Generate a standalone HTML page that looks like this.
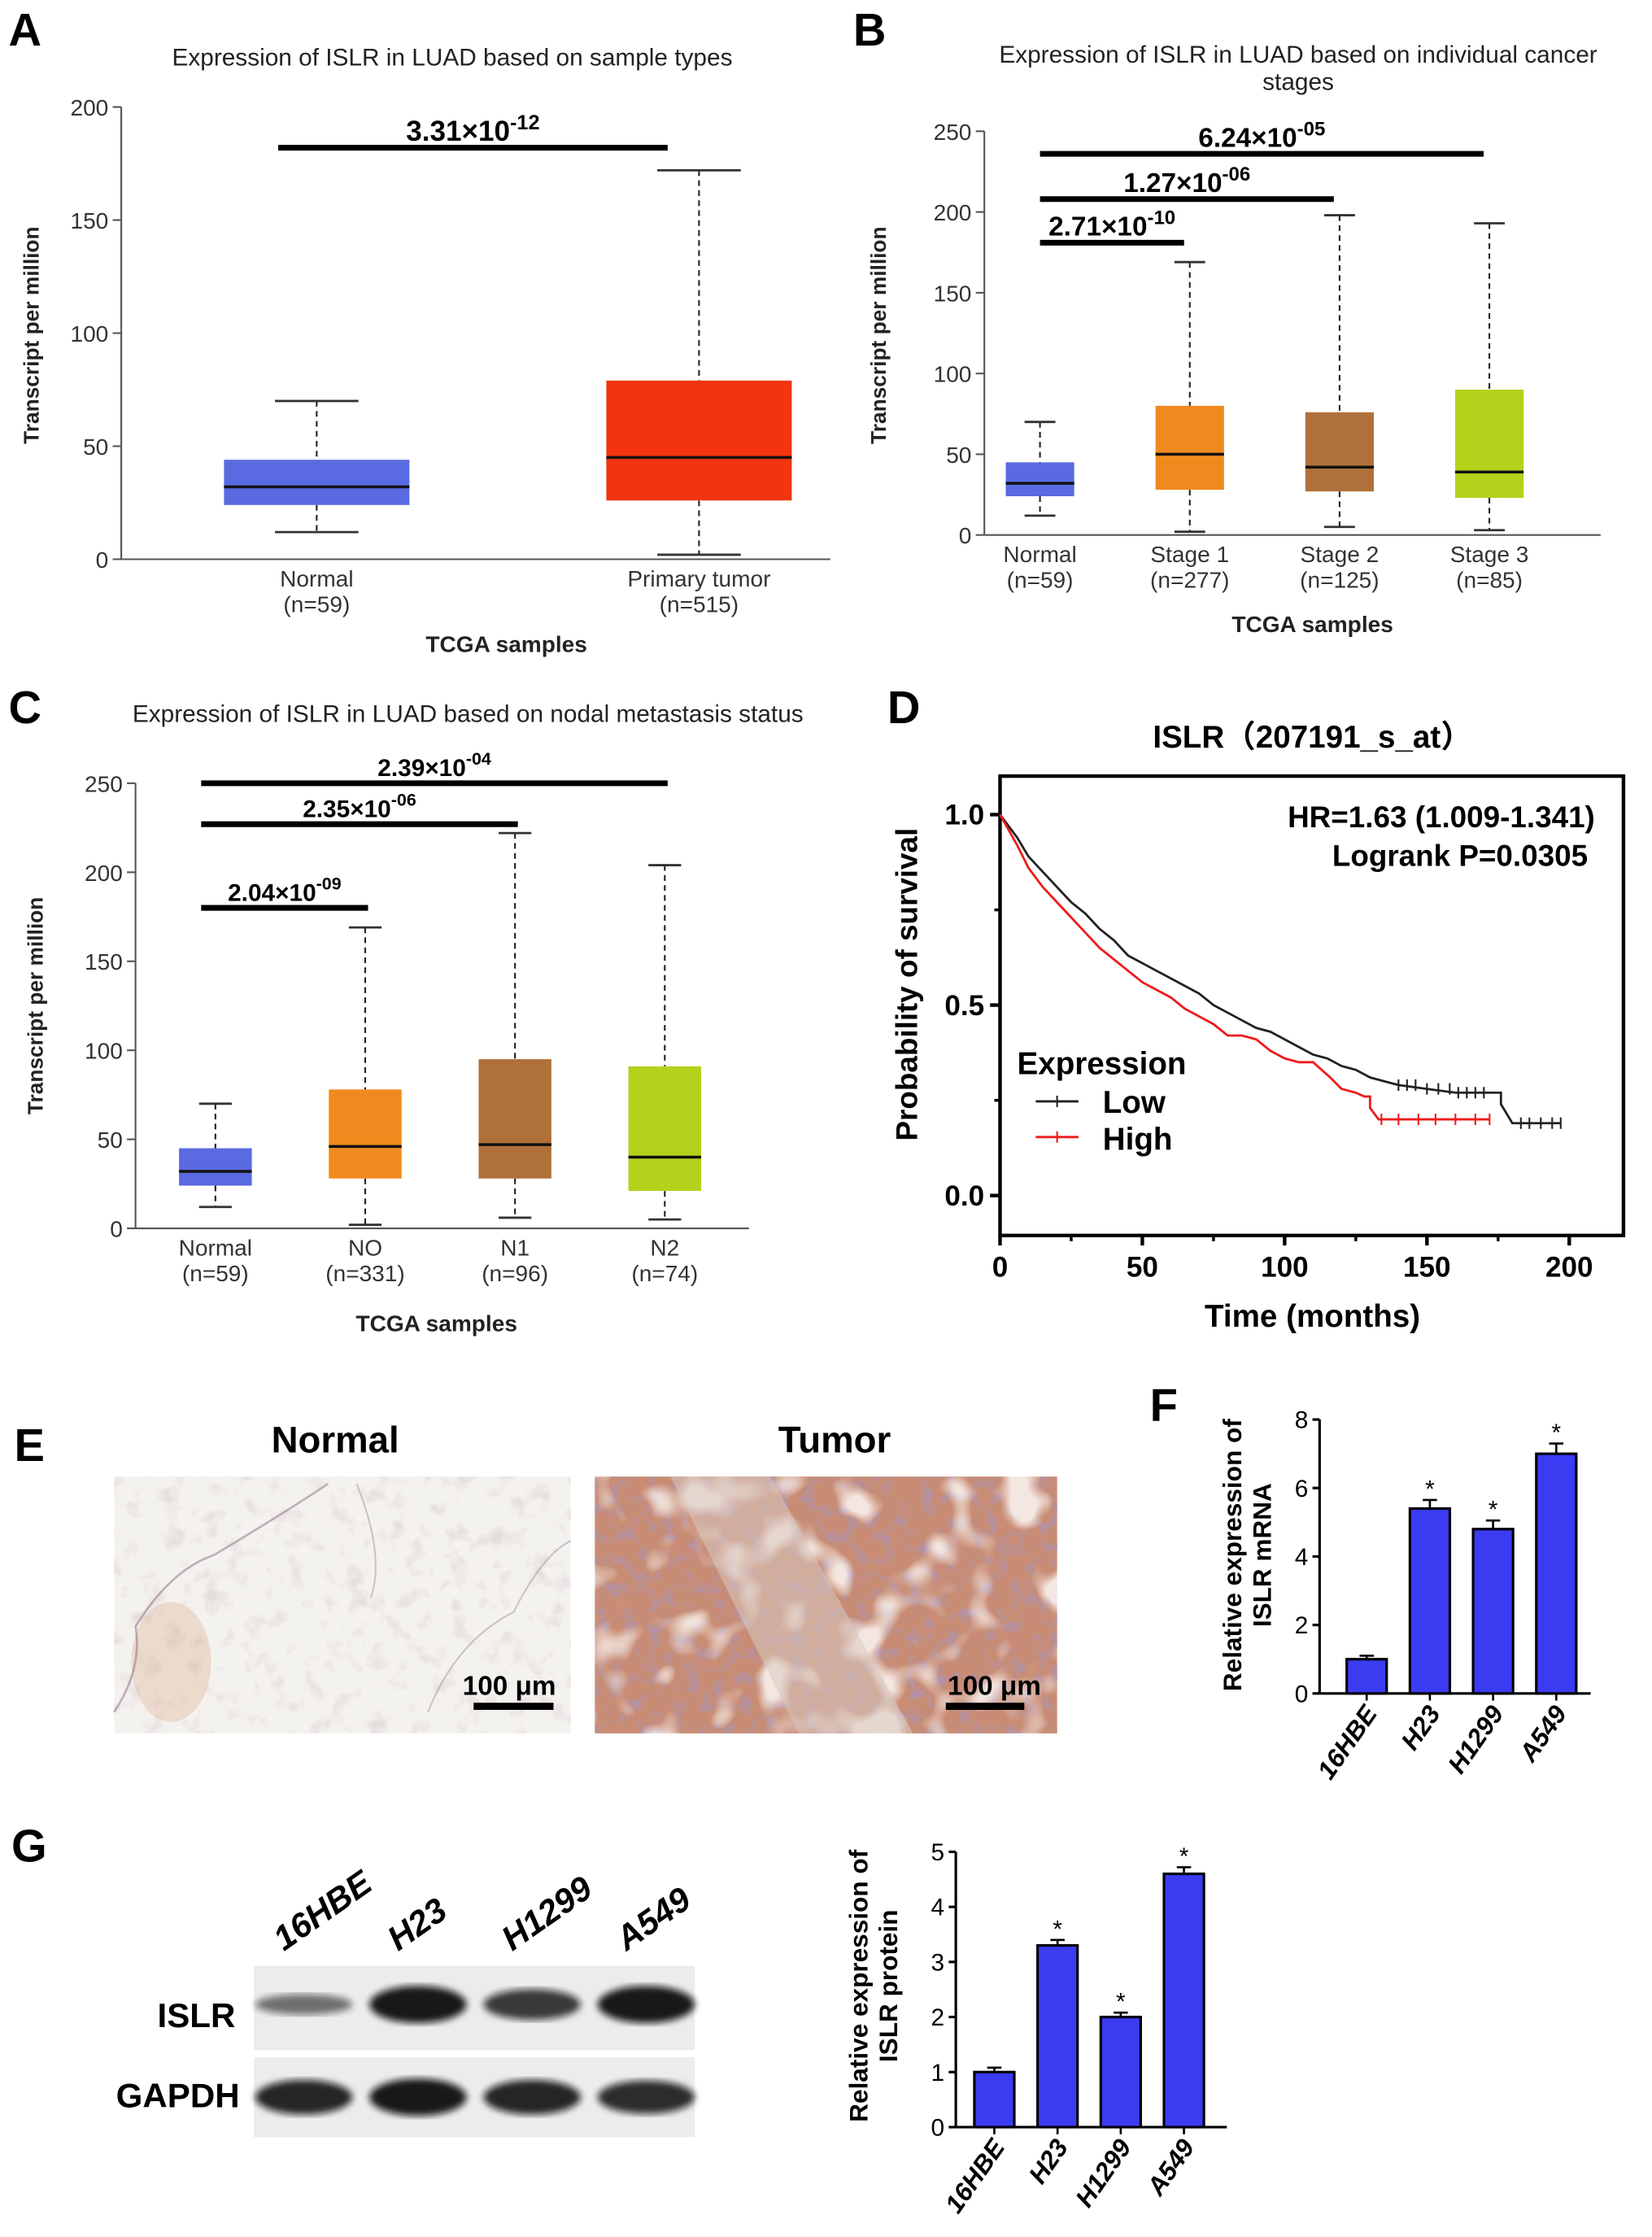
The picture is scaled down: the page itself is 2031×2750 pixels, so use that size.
<!DOCTYPE html>
<html><head><meta charset="utf-8"><style>
html,body{margin:0;padding:0;background:#fff}
svg{display:block}
text{font-family:"Liberation Sans","Noto Sans CJK SC",sans-serif}
</style></head><body>
<svg id="fig" width="2031" height="2750" viewBox="0 0 1158 1568" preserveAspectRatio="none" xmlns="http://www.w3.org/2000/svg">
<defs>
<filter id="texN" x="0" y="0" width="1" height="1"><feTurbulence type="fractalNoise" baseFrequency="0.07" numOctaves="3" seed="3"/><feColorMatrix type="matrix" values="0 0 0 0 0.55  0 0 0 0 0.4  0 0 0 0 0.45  0 0 0 -3 1.45"/></filter>
<filter id="texT" x="0" y="0" width="1" height="1"><feTurbulence type="fractalNoise" baseFrequency="0.11" numOctaves="3" seed="7"/><feColorMatrix type="matrix" values="0 0 0 0 0.4  0 0 0 0 0.3  0 0 0 0 0.5  0 0 0 -2.6 1.35"/></filter>
<filter id="texT2" x="0" y="0" width="1" height="1"><feTurbulence type="fractalNoise" baseFrequency="0.03" numOctaves="2" seed="11"/><feColorMatrix type="matrix" values="0 0 0 0 0.97  0 0 0 0 0.93  0 0 0 0 0.9  0 0 0 -5 2.4"/></filter>
<filter id="blur"><feGaussianBlur stdDeviation="2.5"/></filter>
</defs>
<g id="root"></g>
</svg>
<script>
// ---- Panel A data
const aCats=["Normal","Primary tumor"];
const aN=["(n=59)","(n=515)"];
const aMin=[12,2], aQ1=[24,26], aMed=[32,45], aQ3=[44,79], aMax=[70,172];
const aSigText=["3.31×10"], aSigExp=["-12"], aSigLevel=[182], aSigFrom=[0], aSigTo=[1];
const aTicks=[0,50,100,150,200];
// ---- Panel B data
const bCats=["Normal","Stage 1","Stage 2","Stage 3"];
const bN=["(n=59)","(n=277)","(n=125)","(n=85)"];
const bMin=[12,2,5,3], bQ1=[24,28,27,23], bMed=[32,50,42,39], bQ3=[45,80,76,90], bMax=[70,169,198,193];
const bSigText=["2.71×10","1.27×10","6.24×10"], bSigExp=["-10","-06","-05"], bSigLevel=[181,208,236], bSigFrom=[0,0,0], bSigTo=[1,2,3];
const bTicks=[0,50,100,150,200,250];
// ---- Panel C data
const cCats=["Normal","NO","N1","N2"];
const cN=["(n=59)","(n=331)","(n=96)","(n=74)"];
const cMin=[12,2,6,5], cQ1=[24,28,28,21], cMed=[32,46,47,40], cQ3=[45,78,95,91], cMax=[70,169,222,204];
const cSigText=["2.04×10","2.35×10","2.39×10"], cSigExp=["-09","-06","-04"], cSigLevel=[180,227,250], cSigFrom=[0,0,0], cSigTo=[1,2,3];
const cTicks=[0,50,100,150,200,250];
// ---- Panel D data
const lowT=[0,3,6,10,15,20,25,30,35,40,45,50,55,60,65,70,75,80,85,90,95,100,105,110,115,120,125,130,135,140,150,160,170,175,176,180,197];
const lowP=[1.0,0.97,0.94,0.89,0.85,0.81,0.77,0.74,0.70,0.67,0.63,0.61,0.59,0.57,0.55,0.53,0.50,0.48,0.46,0.44,0.43,0.41,0.39,0.37,0.36,0.34,0.33,0.31,0.30,0.29,0.28,0.27,0.27,0.27,0.24,0.19,0.19];
const highT=[0,3,6,10,15,20,25,30,35,40,45,50,55,60,65,70,75,80,85,90,95,100,105,110,113,116,120,125,128,130,133,172];
const highP=[1.0,0.96,0.92,0.86,0.81,0.77,0.73,0.69,0.65,0.62,0.59,0.56,0.54,0.52,0.49,0.47,0.45,0.42,0.42,0.41,0.38,0.36,0.35,0.35,0.33,0.31,0.28,0.27,0.26,0.23,0.20,0.20];
const lowCens=[140,143,146,150,154,158,161,164,167,170,183,186,190,194,197];
const highCens=[134,140,147,153,160,167,172];
const dXTicks=[0,50,100,150,200];
const dYTicks=[0,0.5,1.0];
// ---- Panel F data
const fCats=["16HBE","H23","H1299","A549"];
const fVals=[1.0,5.4,4.8,7.0];
const fErr=[0.1,0.25,0.25,0.3];
const fStar=[false,true,true,true];
const fTicks=[0,2,4,6,8];
// ---- Panel G data
const gCats=["16HBE","H23","H1299","A549"];
const gVals=[1.0,3.3,2.0,4.6];
const gErr=[0.08,0.1,0.08,0.12];
const gStar=[false,true,true,true];
const gTicks=[0,1,2,3,4,5];
const blotIslr=[0.35,1.0,0.75,1.0];
const blotGapdh=[0.9,1.0,0.9,0.85];

const NS="http://www.w3.org/2000/svg";
const root=document.getElementById('root');
function el(tag,attrs,parent,txt){const e=document.createElementNS(NS,tag);for(const k in attrs)e.setAttribute(k,attrs[k]);if(txt!==undefined)e.textContent=txt;(parent||root).appendChild(e);return e;}
function grp(name,parent){const g=el('g',{},parent||root);return g;}
function label(txt,x,y,size,name,anchor,weight,parent){const t=el('text',{x:x,y:y,'font-size':size,'font-weight':weight||'bold','text-anchor':anchor||'start',fill:'#000'},parent||root,txt);return t;}

function boxPanel(o){
  const g=grp(o.name);
  const ys=v=>o.y0-v/o.vmax*(o.y0-o.yTop);
  const cx=i=>o.xL+i*o.step;
  const ya=el('line',{x1:o.ax,y1:ys(o.vmax),x2:o.ax,y2:o.y0,stroke:'#555','stroke-width':1.2},g);
  
  
  const xa=el('line',{x1:o.ax,y1:o.y0,x2:o.xEnd,y2:o.y0,stroke:'#555','stroke-width':1.2},g);
  
  
  o.ticks.forEach(t=>{
    el('line',{x1:o.ax-6,y1:ys(t),x2:o.ax,y2:ys(t),stroke:'#555','stroke-width':1.2},g);
    const tl=el('text',{x:o.ax-9,y:ys(t)+6,'text-anchor':'end','font-size':16,fill:'#333'},g,t);
    
    
  });
  o.cats.forEach((c,i)=>{
    const x=cx(i), hw=o.hw, cw=hw*0.45;
    const b=grp('box-'+c.toLowerCase().replace(/\s+/g,'-'),g);
    el('line',{x1:x,y1:ys(o.max[i]),x2:x,y2:ys(o.q3[i]),stroke:'#222','stroke-width':1.2,'stroke-dasharray':'4,3'},b);
    el('line',{x1:x,y1:ys(o.q1[i]),x2:x,y2:ys(o.min[i]),stroke:'#222','stroke-width':1.2,'stroke-dasharray':'4,3'},b);
    el('line',{x1:x-cw,y1:ys(o.max[i]),x2:x+cw,y2:ys(o.max[i]),stroke:'#333','stroke-width':1.6},b);
    el('line',{x1:x-cw,y1:ys(o.min[i]),x2:x+cw,y2:ys(o.min[i]),stroke:'#333','stroke-width':1.6},b);
    el('rect',{x:x-hw,y:ys(o.q3[i]),width:2*hw,height:ys(o.q1[i])-ys(o.q3[i]),fill:o.colors[i]},b);
    el('line',{x1:x-hw,y1:ys(o.med[i]),x2:x+hw,y2:ys(o.med[i]),stroke:'#111','stroke-width':2},b);
    const l1=el('text',{x:x,y:o.y0+19,'text-anchor':'middle','font-size':16,fill:'#333'},g,c);
    
    
    const l2=el('text',{x:x,y:o.y0+37,'text-anchor':'middle','font-size':16,fill:'#333'},g,o.n[i]);
    
    
  });
  o.sigLevel.forEach((lv,k)=>{
    const s=grp('significance-bar',g);
    const x1=cx(o.sigFrom[k])+o.sigOff[0], x2=cx(o.sigTo[k])+o.sigOff[1];
    el('line',{x1:x1,y1:ys(lv),x2:x2,y2:ys(lv),stroke:'#000','stroke-width':4},s);
    const t=el('text',{x:(x1+x2)/2,y:ys(lv)-5,'text-anchor':'middle','font-size':o.sigFs,'font-weight':'bold',fill:'#000'},s);
    el('tspan',{},t,o.sigText[k]);
    el('tspan',{dy:-8,'font-size':o.sigFs*0.72},t,o.sigExp[k]);
  });
  const at=el('text',{x:o.titleX,y:o.titleY,'text-anchor':'middle','font-size':16,'font-weight':'bold',fill:'#222'},g,'TCGA samples');
  
  
  const yt=el('text',{x:0,y:0,transform:`translate(${o.ytX},${o.ytY}) rotate(-90)`,'text-anchor':'middle','font-size':15,'font-weight':'bold',fill:'#222'},g,'Transcript per million');
  
  
}

label('A',6,32,32,'panel-label-a');label('B',598,32,32,'panel-label-b');label('C',6,507,32,'panel-label-c');
label('D',622,507,32,'panel-label-d');label('E',10,1024,32,'panel-label-e');label('F',806,996,32,'panel-label-f');label('G',8,1305,32,'panel-label-g');

let t;
t=label('Expression of ISLR in LUAD based on sample types',317,46,17,'chart-title-a','middle','normal');t.setAttribute('fill','#222');
t=label('Expression of ISLR in LUAD based on individual cancer',910,44,17,'chart-title-b','middle','normal');t.setAttribute('fill','#222');
t=label('stages',910,63,17,'chart-title-b-line2','middle','normal');t.setAttribute('fill','#222');
t=label('Expression of ISLR in LUAD based on nodal metastasis status',328,506,17,'chart-title-c','middle','normal');t.setAttribute('fill','#222');

boxPanel({name:'panel-a-boxplot',ax:85,xEnd:582,y0:392,yTop:75,vmax:200,ticks:aTicks,xL:222,step:268,hw:65,cats:aCats,n:aN,min:aMin,q1:aQ1,med:aMed,q3:aQ3,max:aMax,colors:['#5a6ae0','#f23510'],sigLevel:aSigLevel,sigFrom:aSigFrom,sigTo:aSigTo,sigText:aSigText,sigExp:aSigExp,sigOff:[-27,-22],sigFs:20,titleX:355,titleY:457,ytX:27,ytY:235});
boxPanel({name:'panel-b-boxplot',ax:690,xEnd:1122,y0:375,yTop:92,vmax:250,ticks:bTicks,xL:729,step:105,hw:24,cats:bCats,n:bN,min:bMin,q1:bQ1,med:bMed,q3:bQ3,max:bMax,colors:['#5a6ae0','#f08a1e','#b0703a','#b2d21c'],sigLevel:bSigLevel,sigFrom:bSigFrom,sigTo:bSigTo,sigText:bSigText,sigExp:bSigExp,sigOff:[0,-4],sigFs:19,titleX:920,titleY:443,ytX:621,ytY:235});
boxPanel({name:'panel-c-boxplot',ax:95,xEnd:525,y0:861,yTop:549,vmax:250,ticks:cTicks,xL:151,step:105,hw:25.5,cats:cCats,n:cN,min:cMin,q1:cQ1,med:cMed,q3:cQ3,max:cMax,colors:['#5a6ae0','#f08a1e','#b0703a','#b2d21c'],sigLevel:cSigLevel,sigFrom:cSigFrom,sigTo:cSigTo,sigText:cSigText,sigExp:cSigExp,sigOff:[-10,2],sigFs:17,titleX:306,titleY:933,ytX:30,ytY:705});

// ---- Panel D
(function(){
  const g=grp('panel-d-survival');
  const xs=v=>701+v*(1100-701)/200, ys=p=>838-p*267;
  const fr=el('rect',{x:701,y:544,width:437,height:322,fill:'none',stroke:'#000','stroke-width':2.5},g);
  
  
  label('ISLR（207191_s_at）',920,524,22,'chart-title-d','middle','bold',g);
  dXTicks.forEach(v=>{
    el('line',{x1:xs(v),y1:866,x2:xs(v),y2:873,stroke:'#000','stroke-width':2.5},g);
    label(String(v),xs(v),895,20,'x-tick-label','middle','bold',g);
  });
  dYTicks.forEach(v=>{
    el('line',{x1:694,y1:ys(v),x2:701,y2:ys(v),stroke:'#000','stroke-width':2.5},g);
    label(v.toFixed(1),690,ys(v)+7,20,'y-tick-label','end','bold',g);
  });
  [0.25,0.75].forEach(v=>el('line',{x1:697,y1:ys(v),x2:701,y2:ys(v),stroke:'#000','stroke-width':2},g));
  [25,75,125,175].forEach(v=>el('line',{x1:xs(v),y1:866,x2:xs(v),y2:870,stroke:'#000','stroke-width':2},g));
  label('Time (months)',920,930,22,'x-axis-title','middle','bold',g);
  t=el('text',{transform:'translate(643,690) rotate(-90)','text-anchor':'middle','font-size':21,'font-weight':'bold'},g,'Probability of survival');
  
  
  label('HR=1.63 (1.009-1.341)',1118,580,21,'hazard-ratio-text','end','bold',g);
  label('Logrank P=0.0305',1113,607,21,'logrank-p-text','end','bold',g);
  function curve(T,P,color,name,cens){
    let d=`M${xs(T[0])},${ys(P[0])}`;
    for(let i=1;i<T.length;i++){
      if(P[i]!==P[i-1] && T[i]-T[i-1]<=2){d+=` H${xs(T[i])} V${ys(P[i])}`;}
      else d+=` L${xs(T[i])},${ys(P[i])}`;
    }
    const p=el('path',{d:d,fill:'none',stroke:color,'stroke-width':1.6},g);
    
    
    cens.forEach(c=>{let pv=P[0];for(let i=0;i<T.length;i++){if(T[i]<=c)pv=P[i];}
      el('line',{x1:xs(c),y1:ys(pv)-4,x2:xs(c),y2:ys(pv)+4,stroke:color,'stroke-width':1.2},g);});
  }
  curve(lowT,lowP,'#222','low-expression-curve',lowCens);
  curve(highT,highP,'#ee1c1c','high-expression-curve',highCens);
  const lg=grp('legend',g);
  label('Expression',713,753,22,'legend-title','start','bold',lg);
  el('line',{x1:726,y1:772,x2:756,y2:772,stroke:'#222','stroke-width':1.6},lg);
  el('line',{x1:741,y1:768,x2:741,y2:776,stroke:'#222','stroke-width':1.2},lg);
  label('Low',773,780,22,'legend-entry-low','start','bold',lg);
  el('line',{x1:726,y1:797,x2:756,y2:797,stroke:'#ee1c1c','stroke-width':1.6},lg);
  el('line',{x1:741,y1:793,x2:741,y2:801,stroke:'#ee1c1c','stroke-width':1.2},lg);
  label('High',773,806,22,'legend-entry-high','start','bold',lg);
})();

// ---- Panel E histology
(function(){
  const g=grp('panel-e-histology');
  label('Normal',235,1018,26,'normal-image-title','middle','bold',g);
  label('Tumor',585,1018,26,'tumor-image-title','middle','bold',g);
  const n=grp('normal-tissue-image',g);
  el('rect',{x:80,y:1035,width:320,height:180,fill:'#f4f2ef'},n);
  el('rect',{x:80,y:1035,width:320,height:180,filter:'url(#texN)',opacity:0.3},n);
  el('ellipse',{cx:120,cy:1165,rx:28,ry:42,fill:'#dcae90',opacity:0.35},n);
  el('path',{d:'M80 1200 Q100 1170 95 1140 Q120 1100 150 1090 Q200 1060 230 1040',fill:'none',stroke:'#8a6a80','stroke-width':1.5,opacity:0.5},n);
  el('path',{d:'M300 1200 Q320 1150 360 1130 Q380 1090 400 1080',fill:'none',stroke:'#8a7a8a','stroke-width':1.2,opacity:0.4},n);
  el('path',{d:'M250 1040 Q270 1090 260 1120',fill:'none',stroke:'#8a7a8a','stroke-width':1.2,opacity:0.4},n);
  const tm=grp('tumor-tissue-image',g);
  el('rect',{x:417,y:1035,width:324,height:180,fill:'#c88c74'},tm);
  el('rect',{x:417,y:1035,width:324,height:180,filter:'url(#texT)',opacity:0.8},tm);
  el('rect',{x:417,y:1035,width:324,height:180,filter:'url(#texT2)',opacity:0.85},tm);
  el('path',{d:'M470 1035 L540 1035 L640 1215 L560 1215 Z',fill:'#d8c8c0',opacity:0.55},tm);
  [[332,388,357],[663,718,697]].forEach((s,i)=>{
    el('line',{x1:s[0],y1:1196,x2:s[1],y2:1196,stroke:'#000','stroke-width':5},g);
    label('100 μm',s[2],1188,19,'scale-bar-label','middle','bold',g);
  });
})();

function barPanel(o){
  const g=grp(o.name);
  const ys=v=>o.y0-v/o.vmax*(o.y0-o.yTop);
  const cx=i=>o.xL+i*o.step;
  const ya=el('line',{x1:o.ax,y1:ys(o.vmax),x2:o.ax,y2:o.y0,stroke:'#000','stroke-width':1.8},g);
  
  
  const xa=el('line',{x1:o.ax,y1:o.y0,x2:o.xEnd,y2:o.y0,stroke:'#000','stroke-width':1.8},g);
  
  
  o.ticks.forEach(v=>{
    el('line',{x1:o.ax-5,y1:ys(v),x2:o.ax,y2:ys(v),stroke:'#000','stroke-width':1.8},g);
    label(String(v),o.ax-8,ys(v)+6,17,'y-tick-label','end','normal',g);
  });
  o.cats.forEach((c,i)=>{
    const x=cx(i);
    const b=el('rect',{x:x-o.hw,y:ys(o.vals[i]),width:2*o.hw,height:o.y0-ys(o.vals[i]),fill:'#3b3bf2',stroke:'#000','stroke-width':1.8},g);
    
    
    const e=ys(o.vals[i]+o.err[i]);
    el('line',{x1:x,y1:ys(o.vals[i]),x2:x,y2:e,stroke:'#000','stroke-width':1.5},g);
    el('line',{x1:x-5,y1:e,x2:x+5,y2:e,stroke:'#000','stroke-width':1.5},g);
    if(o.star[i]){label('*',x,e-2,17,'significance-star','middle','normal',g);}
    el('line',{x1:x,y1:o.y0,x2:x,y2:o.y0+5,stroke:'#000','stroke-width':1.5},g);
    const tl=el('text',{transform:`translate(${x+8},${o.y0+14}) rotate(-55)`,'text-anchor':'end','font-size':18,'font-weight':'bold','font-style':'italic'},g,c);
    
    
  });
  const y1=el('text',{transform:`translate(${o.ytX},${o.ytY}) rotate(-90)`,'text-anchor':'middle','font-size':18,'font-weight':'bold'},g,'Relative expression of');
  
  
  const y2=el('text',{transform:`translate(${o.ytX+21},${o.ytY}) rotate(-90)`,'text-anchor':'middle','font-size':18,'font-weight':'bold'},g,o.yt2);
  
  
}
barPanel({name:'panel-f-mrna-bars',ax:925,xEnd:1115,y0:1187,yTop:995,vmax:8,ticks:fTicks,xL:958,step:44.3,hw:14,cats:fCats,vals:fVals,err:fErr,star:fStar,ytX:870,ytY:1090,yt2:'ISLR mRNA'});
barPanel({name:'panel-g-protein-bars',ax:670,xEnd:860,y0:1491,yTop:1298,vmax:5,ticks:gTicks,xL:697,step:44.3,hw:14,cats:gCats,vals:gVals,err:gErr,star:gStar,ytX:608,ytY:1392,yt2:'ISLR protein'});

// ---- Panel G western blot
(function(){
  const g=grp('panel-g-western-blot');
  const lx=i=>213+i*80;
  gCats.forEach((c,i)=>{
    const t=el('text',{transform:`translate(${lx(i)-14},${1368}) rotate(-35)`,'font-size':24,'font-weight':'bold','font-style':'italic'},g,c);
    
    
  });
  el('rect',{x:178,y:1378,width:309,height:59,fill:'#ececec'},g);
  el('rect',{x:178,y:1442,width:309,height:56,fill:'#ececec'},g);
  blotIslr.forEach((v,i)=>{
    const b=el('ellipse',{cx:lx(i),cy:1405,rx:34,ry:4+9*v,fill:'#111',opacity:0.35+0.6*v,filter:'url(#blur)'},g);
    
    
  });
  blotGapdh.forEach((v,i)=>{
    const b=el('ellipse',{cx:lx(i),cy:1470,rx:34,ry:4+9*v,fill:'#111',opacity:0.35+0.6*v,filter:'url(#blur)'},g);
    
    
  });
  label('ISLR',165,1421,24,'islr-row-label','end','bold',g);
  label('GAPDH',168,1477,24,'gapdh-row-label','end','bold',g);
})();
</script>
</body></html>
